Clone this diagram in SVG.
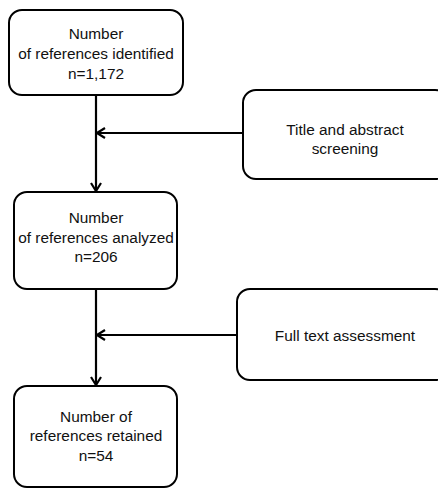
<svg xmlns="http://www.w3.org/2000/svg" width="438" height="489" viewBox="0 0 438 489">
<defs>
<style>
.box{fill:#fff;stroke:#000;stroke-width:2}
.lbl{font-family:"Liberation Sans",Arial,sans-serif;font-size:15.4px;fill:#111;text-anchor:middle}
.con{fill:none;stroke:#000;stroke-width:2.2}
</style>
<marker id="ah" viewBox="0 0 10 12" refX="9" refY="6" markerWidth="10" markerHeight="12" markerUnits="userSpaceOnUse" orient="auto">
<path d="M1,1 L9,6 L1,11" fill="none" stroke="#000" stroke-width="2.2"/>
</marker>
</defs>
<rect width="438" height="489" fill="#fff"/>
<g id="connectors">
<path class="con" d="M96,95 V191" marker-end="url(#ah)"/>
<path class="con" d="M243,133 H97" marker-end="url(#ah)"/>
<path class="con" d="M96,289 V385" marker-end="url(#ah)"/>
<path class="con" d="M237,335 H97" marker-end="url(#ah)"/>
</g>
<g id="n1">
<rect class="box" x="9" y="10" width="174" height="85" rx="13"/>
<text class="lbl" x="96" y="39">Number</text>
<text class="lbl" x="96" y="59">of references identified</text>
<text class="lbl" x="96" y="79">n=1,172</text>
</g>
<g id="n2">
<rect class="box" x="243" y="90" width="205" height="89" rx="13"/>
<text class="lbl" x="345" y="135">Title and abstract</text>
<text class="lbl" x="345" y="154">screening</text>
</g>
<g id="n3">
<rect class="box" x="14" y="192" width="163" height="97" rx="13"/>
<text class="lbl" x="96" y="223">Number</text>
<text class="lbl" x="96" y="243">of references analyzed</text>
<text class="lbl" x="96" y="262">n=206</text>
</g>
<g id="n4">
<rect class="box" x="237" y="289" width="211" height="91" rx="13"/>
<text class="lbl" x="345" y="341">Full text assessment</text>
</g>
<g id="n5">
<rect class="box" x="14" y="386" width="163" height="101" rx="13"/>
<text class="lbl" x="96" y="422">Number of</text>
<text class="lbl" x="96" y="441">references retained</text>
<text class="lbl" x="96" y="461">n=54</text>
</g>
</svg>
